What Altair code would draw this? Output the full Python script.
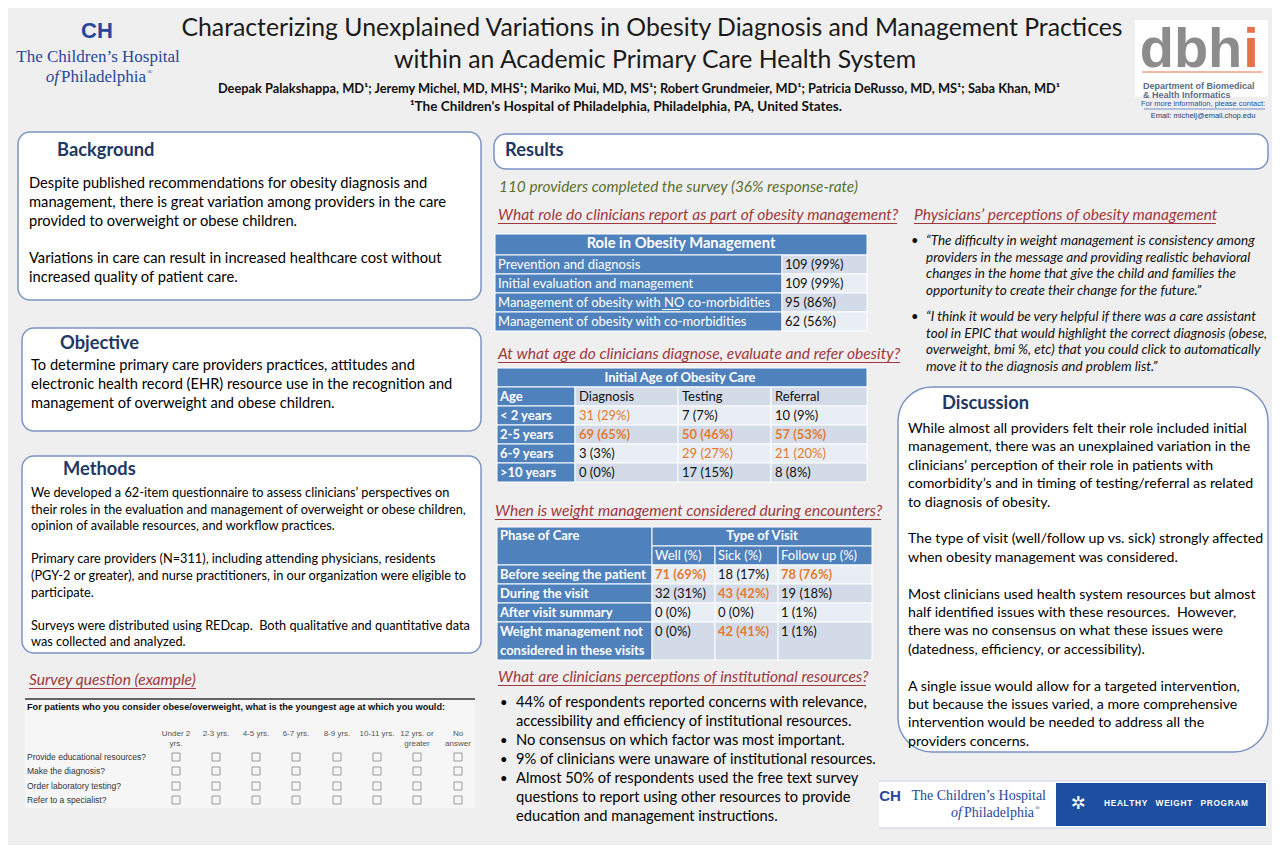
import altair as alt
import pandas as pd

# ---------------- content ----------------
TITLE_LINES = [
    "Characterizing Unexplained Variations in Obesity Diagnosis and Management Practices",
    "within an Academic Primary Care Health System",
]
AUTHORS = ("Deepak Palakshappa, MD¹; Jeremy Michel, MD, MHS¹; Mariko Mui, MD, MS¹; "
           "Robert Grundmeier, MD¹; Patricia DeRusso, MD, MS¹; Saba Khan, MD¹")
AFFILIATION = "¹The Children's Hospital of Philadelphia, Philadelphia, PA, United States."

SECTION_TITLES = ["Background", "Objective", "Methods", "Results", "Discussion"]

BACKGROUND_LINES = [
    "Despite published recommendations for obesity diagnosis and",
    "management, there is great variation among providers in the care",
    "provided to overweight or obese children.",
    "",
    "Variations in care can result in increased healthcare cost without",
    "increased quality of patient care.",
]
OBJECTIVE_LINES = [
    "To determine primary care providers practices, attitudes and",
    "electronic health record (EHR) resource use in the recognition and",
    "management of overweight and obese children.",
]
METHODS_LINES = [
    "We developed a 62-item questionnaire to assess clinicians’ perspectives on",
    "their roles in the evaluation and management of overweight or obese children,",
    "opinion of available resources, and workflow practices.",
    "",
    "Primary care providers (N=311), including attending physicians, residents",
    "(PGY-2 or greater), and nurse practitioners, in our organization were eligible to",
    "participate.",
    "",
    "Surveys were distributed using REDcap.\u00a0 Both qualitative and quantitative data",
    "was collected and analyzed.",
]
DISCUSSION_LINES = [
    "While almost all providers felt their role included initial",
    "management, there was an unexplained variation in the",
    "clinicians’ perception of their role in patients with",
    "comorbidity’s and in timing of testing/referral as related",
    "to diagnosis of obesity.",
    "",
    "The type of visit (well/follow up vs. sick) strongly affected",
    "when obesity management was considered.",
    "",
    "Most clinicians used health system resources but almost",
    "half identified issues with these resources.\u00a0 However,",
    "there was no consensus on what these issues were",
    "(datedness, efficiency, or accessibility).",
    "",
    "A single issue would allow for a targeted intervention,",
    "but because the issues varied, a more comprehensive",
    "intervention would be needed to address all the",
    "providers concerns.",
]

RESPONSE_NOTE = "110 providers completed the survey (36% response-rate)"
SUBHEADS = [
    "What role do clinicians report as part of obesity management?",
    "At what age do clinicians diagnose, evaluate and refer obesity?",
    "When is weight management considered during encounters?",
    "What are clinicians perceptions of institutional resources?",
    "Physicians’ perceptions of obesity management",
    "Survey question (example)",
]

QUOTES = [
    ["“The difficulty in weight management is consistency among",
     "providers in the message and providing realistic behavioral",
     "changes in the home that give the child and families the",
     "opportunity to create their change for the future.”"],
    ["“I think it would be very helpful if there was a care assistant",
     "tool in EPIC that would highlight the correct diagnosis (obese,",
     "overweight, bmi %, etc) that you could click to automatically",
     "move it to the diagnosis and problem list.”"],
]
RESOURCE_BULLETS = [
    ["44% of respondents reported concerns with relevance,",
     "accessibility and efficiency of institutional resources."],
    ["No consensus on which factor was most important."],
    ["9% of clinicians were unaware of institutional resources."],
    ["Almost 50% of respondents used the free text survey",
     "questions to report using other resources to provide",
     "education and management instructions."],
]

# Table 1
ROLE_TITLE = "Role in Obesity Management"
ROLE_LABELS = [
    "Prevention and diagnosis",
    "Initial evaluation and management",
    "Management of obesity with NO co-morbidities",
    "Management of obesity with co-morbidities",
]
ROLE_VALUES = ["109 (99%)", "109 (99%)", "95 (86%)", "62 (56%)"]

# Table 2
AGE_TITLE = "Initial Age of Obesity Care"
AGE_HEADER = ["Age", "Diagnosis", "Testing", "Referral"]
AGE_GROUPS = ["< 2 years", "2-5 years", "6-9 years", ">10 years"]
AGE_VALUES = [
    ["31 (29%)", "7 (7%)", "10 (9%)"],
    ["69 (65%)", "50 (46%)", "57 (53%)"],
    ["3 (3%)", "29 (27%)", "21 (20%)"],
    ["0 (0%)", "17 (15%)", "8 (8%)"],
]
AGE_EMPHASIS = [[1, 0, 0], [2, 2, 2], [0, 1, 1], [0, 0, 0]]  # 0 plain, 1 orange, 2 orange bold

# Table 3
VISIT_HEAD = ["Phase of Care", "Type of Visit"]
VISIT_COLS = ["Well (%)", "Sick (%)", "Follow up (%)"]
PHASES = [["Before seeing the patient"], ["During the visit"], ["After visit summary"],
          ["Weight management not", "considered in these visits"]]
VISIT_VALUES = [
    ["71 (69%)", "18 (17%)", "78 (76%)"],
    ["32 (31%)", "43 (42%)", "19 (18%)"],
    ["0 (0%)", "0 (0%)", "1 (1%)"],
    ["0 (0%)", "42 (41%)", "1 (1%)"],
]
VISIT_EMPHASIS = [[2, 0, 2], [0, 2, 0], [0, 0, 0], [0, 2, 0]]

# Survey example
SURVEY_Q = "For patients who you consider obese/overweight, what is the youngest age at which you would:"
SURVEY_COLS = [["Under 2", "yrs."], ["2-3 yrs."], ["4-5 yrs."], ["6-7 yrs."], ["8-9 yrs."],
               ["10-11 yrs."], ["12 yrs. or", "greater"], ["No", "answer"]]
SURVEY_ROWS = ["Provide educational resources?", "Make the diagnosis?",
               "Order laboratory testing?", "Refer to a specialist?"]

LOGO_LINES = ["The Children’s Hospital", "of", "Philadelphia", "®"]
DBHI_LETTERS = ["dbh", "i"]
DBHI_LINES = ["Department of Biomedical", "& Health Informatics"]
CONTACT_LINES = ["For more information, please contact:", "Email: michelj@email.chop.edu"]
PROGRAM_WORDS = ["HEALTHY", "WEIGHT", "PROGRAM"]

# ---------------- styles / layout ----------------
BODY = "Lato"
SERIF = "Liberation Serif"
ARIAL = "Liberation Sans"
NAVY = "#1f3864"
RED = "#a0393d"
OLIVE = "#5a7030"
BLUE = "#4f81bd"
LIGHT1 = "#d3dbe8"
LIGHT2 = "#e9edf4"
ORANGE = "#e47a2e"
BORDER = "#7d93c2"
LOGO_BLUE = "#27489a"

XS = alt.Scale(domain=[8, 1272], range=[0, 1264], nice=False, zero=False)
YS = alt.Scale(domain=[8, 845], range=[0, 837], nice=False, zero=False)
X = alt.X("x:Q", scale=XS, axis=None)
Y = alt.Y("y:Q", scale=YS, axis=None)

layers = []


def text_layer(rows, size, color="#000000", weight="normal", style="normal",
               font=BODY, align="left", baseline="middle"):
    df = pd.DataFrame(rows, columns=["x", "y", "t"])
    layers.append(
        alt.Chart(df).mark_text(fontSize=size, color=color, fontWeight=weight,
                                fontStyle=style, font=font, align=align,
                                baseline=baseline)
        .encode(x=X, y=Y, text="t:N")
    )


def rect_layer(rows, stroke=None, sw=0, radius=0):
    df = pd.DataFrame(rows, columns=["x", "y", "x2", "y2", "f"])
    kw = dict(cornerRadius=radius)
    if stroke:
        kw.update(stroke=stroke, strokeWidth=sw)
    layers.append(
        alt.Chart(df).mark_rect(**kw).encode(
            x=X, y=Y, x2=alt.X2("x2:Q"), y2=alt.Y2("y2:Q"),
            color=alt.Color("f:N", scale=None))
    )


def rule_layer(rows, color, sw=1):
    df = pd.DataFrame(rows, columns=["x", "x2", "y"])
    layers.append(
        alt.Chart(df).mark_rule(color=color, strokeWidth=sw).encode(
            x=X, x2=alt.X2("x2:Q"), y=Y)
    )


def para(lines, x, y0, dy):
    return [(x, y0 + i * dy, t) for i, t in enumerate(lines) if t]


# ---------- boxes ----------
rect_layer([(18, 132, 481, 300, "#ffffff"), (22, 328, 481, 431, "#ffffff"),
            (22, 456, 481, 653, "#ffffff"), (494, 134, 1268, 169, "#ffffff")],
           stroke=BORDER, sw=1.5, radius=12)
rect_layer([(898, 387, 1268, 752, "#ffffff")], stroke=BORDER, sw=1.5, radius=34)

# ---------- header ----------
text_layer([(652, 29, TITLE_LINES[0]), (655, 61, TITLE_LINES[1])], 24.8, "#1a1a1a",
           align="center")
text_layer([(639, 89, AUTHORS)], 12.8, "#111111", weight="bold", align="center")
text_layer([(626, 107, AFFILIATION)], 13.6, "#111111", weight="bold", align="center")

# CHOP logo (top-left)
text_layer([(97, 31, "CH")], 22, LOGO_BLUE, weight="bold", font=ARIAL, align="center")
text_layer([(98, 57, LOGO_LINES[0])], 17, LOGO_BLUE, font=SERIF, align="center")
text_layer([(59, 77, LOGO_LINES[1])], 17, LOGO_BLUE, style="italic", font=SERIF, align="right")
text_layer([(61, 77, LOGO_LINES[2])], 17, LOGO_BLUE, font=SERIF, align="left")
text_layer([(147, 72, LOGO_LINES[3])], 7, LOGO_BLUE, font=SERIF, align="left")

# dbhi logo (top-right)
rect_layer([(1135, 20, 1268, 97, "#ffffff")])
text_layer([(1191, 79, DBHI_LETTERS[0])], 56, "#8c8c8c", weight="bold",
           font=ARIAL, align="center", baseline="bottom")
text_layer([(1251, 79, DBHI_LETTERS[1])], 56, "#e8704a", weight="bold",
           font=ARIAL, align="center", baseline="bottom")
rule_layer([(1142, 1262, 72)], "#e8704a", 1)
text_layer(para(DBHI_LINES, 1143, 85.5, 9), 9, "#5b6b85", weight="bold", font=ARIAL)
text_layer([(1203, 104, CONTACT_LINES[0])], 7.5, "#1f4fa8", font=ARIAL, align="center")
rule_layer([(1144, 1265, 109)], "#1f4fa8", 0.6)
text_layer([(1203, 116, CONTACT_LINES[1])], 7.5, "#1f3b73", font=ARIAL, align="center")

# ---------- section headings ----------
text_layer([(57, 151, SECTION_TITLES[0]), (60, 344, SECTION_TITLES[1]),
            (63, 470, SECTION_TITLES[2]), (505, 151, SECTION_TITLES[3]),
            (942, 404, SECTION_TITLES[4])], 18.3, NAVY, weight="bold")

# ---------- left column text ----------
text_layer(para(BACKGROUND_LINES, 29, 184, 18.8), 14.7)
text_layer(para(OBJECTIVE_LINES, 31, 366, 19), 14.65)
text_layer(para(METHODS_LINES, 31, 493, 16.6), 12.75)

# ---------- sub headings (italic, underlined) ----------
sub_pos = [(498, 215, 897), (498, 354, 900), (495, 511, 881), (498, 677, 866),
           (914, 215, 1216), (29, 680, 196)]
text_layer([(x, y, SUBHEADS[i]) for i, (x, y, _) in enumerate(sub_pos)], 15.6, RED,
           style="italic")
rule_layer([(x, x2, y + 8.5) for (x, y, x2) in sub_pos], RED, 1)
text_layer([(499, 187, RESPONSE_NOTE)], 15.4, OLIVE, style="italic")

# ---------- quotes ----------
qrows, qbul = [], []
for i, q in enumerate(QUOTES):
    y0 = 241 + i * 76
    qrows += para(q, 926, y0, 16.7)
    qbul.append((911, y0, "•"))
text_layer(qrows, 13.5, "#111111", style="italic")
text_layer(qbul, 13, "#111111")

# ---------- resource bullets ----------
rrows, rbul = [], []
y = 703
for b in RESOURCE_BULLETS:
    rbul.append((500, y, "•"))
    rrows += para(b, 516, y, 19)
    y += 19 * len(b)
text_layer(rrows, 14.7)
text_layer(rbul, 13)

# ---------- discussion ----------
text_layer(para(DISCUSSION_LINES, 908, 429, 18.4), 14.2)

# ---------- Table 1 ----------
t1_rows = [(495, 234, 867, 255, BLUE)]
t1_y = [255, 274, 293, 312, 331]
for i in range(4):
    t1_rows.append((495, t1_y[i], 782, t1_y[i + 1], BLUE))
    t1_rows.append((782, t1_y[i], 867, t1_y[i + 1], LIGHT1 if i % 2 == 0 else LIGHT2))
rect_layer(t1_rows, stroke="#ffffff", sw=1)
text_layer([(681, 244, ROLE_TITLE)], 14.7, "#ffffff", weight="bold", align="center")
text_layer([(498, (t1_y[i] + t1_y[i + 1]) / 2, ROLE_LABELS[i]) for i in range(4)], 13, "#ffffff")
text_layer([(785, (t1_y[i] + t1_y[i + 1]) / 2, ROLE_VALUES[i]) for i in range(4)], 13, "#111111")
rule_layer([(662, 680, 309.5)], "#ffffff", 1)

# ---------- Table 2 ----------
c2 = [497, 575, 678, 771, 867]
r2 = [387, 406, 425, 444, 463, 482]
t2 = [(497, 368, 867, 387, BLUE)]
for i in range(5):
    t2.append((c2[0], r2[i], c2[1], r2[i + 1], BLUE))
    for j in range(1, 4):
        t2.append((c2[j], r2[i], c2[j + 1], r2[i + 1], LIGHT1 if i % 2 == 0 else LIGHT2))
rect_layer(t2, stroke="#ffffff", sw=1)
text_layer([(680, 377.5, AGE_TITLE)], 13, "#ffffff", weight="bold", align="center")
text_layer([(500, 396.5, AGE_HEADER[0])] +
           [(500, (r2[i + 1] + r2[i + 2]) / 2, AGE_GROUPS[i]) for i in range(4)],
           13, "#ffffff", weight="bold")
text_layer([(c2[j] + 4, 396.5, AGE_HEADER[j]) for j in range(1, 4)], 13, "#111111")
groups = {0: [], 1: [], 2: []}
for i in range(4):
    for j in range(3):
        groups[AGE_EMPHASIS[i][j]].append(
            (c2[j + 1] + 4, (r2[i + 1] + r2[i + 2]) / 2, AGE_VALUES[i][j]))
text_layer(groups[0], 13, "#111111")
text_layer(groups[1], 13, ORANGE)
text_layer(groups[2], 13, ORANGE, weight="bold")

# ---------- Table 3 ----------
c3 = [497, 652, 715, 778, 872]
r3 = [565, 584, 603, 622, 660]
t3 = [(497, 527, 652, 565, BLUE), (652, 527, 872, 546, BLUE)]
for j in range(1, 4):
    t3.append((c3[j], 546, c3[j + 1], 565, BLUE))
for i in range(4):
    t3.append((c3[0], r3[i], c3[1], r3[i + 1], BLUE))
    for j in range(1, 4):
        t3.append((c3[j], r3[i], c3[j + 1], r3[i + 1], LIGHT2 if i % 2 == 0 else LIGHT1))
rect_layer(t3, stroke="#ffffff", sw=1)
text_layer([(500, 536, VISIT_HEAD[0])], 13, "#ffffff", weight="bold")
text_layer([(762, 536, VISIT_HEAD[1])], 13, "#ffffff", weight="bold", align="center")
text_layer([(c3[j + 1] + 3, 555.5, VISIT_COLS[j]) for j in range(3)], 13, "#ffffff")
prow = []
for i, p in enumerate(PHASES):
    y0 = (r3[i] + r3[i + 1]) / 2 if len(p) == 1 else r3[i] + 9.5
    prow += para(p, 500, y0, 19)
text_layer(prow, 13, "#ffffff", weight="bold")
groups = {0: [], 2: []}
for i in range(4):
    y0 = (r3[i] + r3[i + 1]) / 2 if len(PHASES[i]) == 1 else r3[i] + 9.5
    for j in range(3):
        groups[VISIT_EMPHASIS[i][j]].append((c3[j + 1] + 3, y0, VISIT_VALUES[i][j]))
text_layer(groups[0], 13, "#111111")
text_layer(groups[2], 13, ORANGE, weight="bold")

# ---------- survey example ----------
rect_layer([(25, 698, 475, 808, "#f6f6f6")])
rule_layer([(25, 475, 699)], "#333333", 1.5)
text_layer([(27, 707, SURVEY_Q)], 9.2, "#111111", weight="bold", font=ARIAL)
col_x = [176, 216, 256, 296, 337, 377, 417, 458]
hdr = []
for j, c in enumerate(SURVEY_COLS):
    hdr += para(c, col_x[j], 734, 10)
text_layer(hdr, 8, "#555555", font=ARIAL, align="center")
row_y = [757, 771, 786, 800]
text_layer([(27, row_y[i], SURVEY_ROWS[i]) for i in range(4)], 8.5, "#333333", font=ARIAL)
boxes = pd.DataFrame([(x, y) for y in row_y for x in col_x], columns=["x", "y"])
layers.append(alt.Chart(boxes).mark_point(shape="square", filled=False, size=64,
                                          color="#555555", strokeWidth=0.8)
              .encode(x=X, y=Y))

# ---------- bottom logo ----------
rect_layer([(879, 781, 1268, 828, "#ffffff")])
rule_layer([(879, 1268, 781), (879, 1268, 828)], "#c9d3e3", 1)
rect_layer([(1056, 783, 1266, 826, "#1c4f9f")])
text_layer([(890, 796, "CH")], 15, LOGO_BLUE, weight="bold", font=ARIAL, align="center")
text_layer([(1046, 796, LOGO_LINES[0])], 14, LOGO_BLUE, font=SERIF, align="right")
text_layer([(962, 813, LOGO_LINES[1])], 14, LOGO_BLUE, style="italic", font=SERIF, align="right")
text_layer([(964, 813, LOGO_LINES[2])], 14, LOGO_BLUE, font=SERIF, align="left")
text_layer([(1035, 808, LOGO_LINES[3])], 6.5, LOGO_BLUE, font=SERIF, align="left")
text_layer([(1078, 804, "✲")], 18, "#ffffff", font="DejaVu Sans", align="center")
program = "\u2003".join("\u200a".join(w) for w in PROGRAM_WORDS)
text_layer([(1176, 804, program)], 8.3, "#ffffff", weight="bold", font=ARIAL, align="center")

chart = (
    alt.layer(*layers)
    .properties(width=1264, height=837, background="#efefef", padding=0, autosize="none")
    .configure_view(strokeWidth=0)
)
chart.save("out.html", embed_options={"renderer": "svg", "actions": False})
